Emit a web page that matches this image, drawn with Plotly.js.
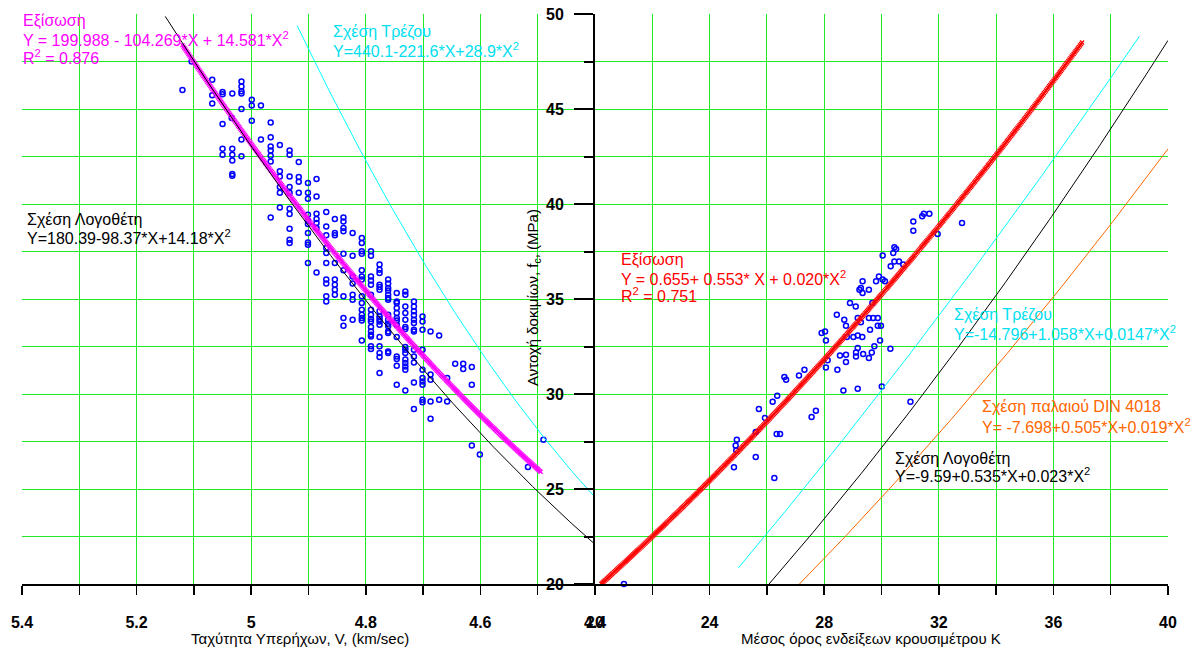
<!DOCTYPE html>
<html>
<head>
<meta charset="utf-8">
<script src="https://cdn.plot.ly/plotly-3.0.1.min.js"></script>
<style>html,body{margin:0;padding:0;background:#fff}#chart{width:1196px;height:648px}</style>
</head>
<body>
<div id="chart"></div>
<script>
// ---------- DATA ----------
// Left panel: ultrasonic pulse velocity V (km/sec) vs compressive strength fc (MPa)
const leftV = [5.120,5.104,5.068,5.068,5.068,5.050,5.050,5.033,5.017,5.017,5.017,5.017,5.017,4.999,4.999,4.983,5.050,5.034,4.999,4.966,
5.017,4.983,4.966,4.950,5.050,5.050,5.033,5.033,5.033,5.033,5.033,5.017,4.966,4.966,4.966,4.966,4.933,4.933,4.917,4.950,
4.950,4.933,4.917,4.917,4.901,4.886,4.950,4.950,4.933,4.933,4.917,4.901,4.901,4.886,4.950,4.933,4.933,4.966,4.901,4.901,
4.901,4.886,4.886,4.869,4.933,4.933,4.933,4.901,4.901,4.901,4.886,4.886,4.869,4.869,4.854,4.854,4.854,4.839,4.839,4.839,
4.839,4.823,4.901,4.886,4.869,4.869,4.869,4.869,4.869,4.854,4.854,4.854,4.854,4.854,4.839,4.839,4.823,4.823,4.823,4.823,
4.807,4.807,4.807,4.807,4.807,4.807,4.791,4.791,4.791,4.791,4.776,4.776,4.776,4.761,4.761,4.761,4.761,4.746,4.731,4.731,
4.776,4.776,4.791,4.869,4.839,4.869,4.823,4.807,4.807,4.807,4.791,4.776,4.761,4.761,4.761,4.746,4.746,4.731,4.716,4.716,
4.716,4.716,4.716,4.716,4.839,4.839,4.823,4.807,4.807,4.807,4.807,4.791,4.791,4.791,4.791,4.791,4.791,4.791,4.791,4.807,
4.776,4.776,4.776,4.776,4.776,4.776,4.761,4.761,4.761,4.761,4.761,4.761,4.746,4.746,4.746,4.746,4.746,4.746,4.731,4.731,
4.731,4.731,4.716,4.716,4.701,4.701,4.701,4.687,4.672,4.791,4.791,4.776,4.776,4.776,4.761,4.761,4.776,4.746,4.746,4.746,
4.731,4.731,4.731,4.731,4.731,4.731,4.731,4.716,4.716,4.716,4.701,4.701,4.701,4.701,4.701,4.746,4.731,4.716,4.687,4.687,
4.658,4.644,4.630,4.630,4.615,4.615,4.701,4.701,4.687,4.672,4.658,4.716,4.687,4.615,4.601,4.517,4.490];
const leftFc = [46.00,47.50,46.54,45.72,45.29,45.89,45.77,45.81,46.45,46.19,45.93,45.81,45.00,45.49,45.19,45.19,44.21,44.53,44.38,44.29,
43.40,43.40,43.51,43.11,42.91,42.59,42.91,42.59,42.29,41.58,41.49,42.51,43.03,42.81,42.54,42.24,42.82,42.59,42.21,41.72,
41.45,41.45,41.42,41.17,41.11,41.32,40.89,40.59,40.89,40.59,40.59,40.59,40.28,40.40,39.81,39.75,39.47,39.29,39.44,39.12,
38.95,39.49,39.21,39.58,38.70,38.12,37.95,38.47,37.98,37.86,39.00,38.74,38.82,38.35,39.21,38.47,38.35,39.29,39.08,38.74,
38.56,38.47,36.89,36.40,37.68,37.42,36.89,36.02,35.81,36.89,36.02,35.75,35.49,35.23,37.38,36.51,37.28,36.19,35.81,35.23,
38.21,37.95,37.51,37.38,36.51,35.14,37.51,37.28,36.19,35.98,36.81,36.54,36.37,36.02,35.81,35.58,35.45,35.32,35.40,35.23,
35.75,35.49,35.23,35.14,35.14,34.87,34.96,36.19,36.02,34.79,35.75,35.63,35.23,35.05,34.96,34.87,34.79,34.61,34.87,34.61,
34.35,34.14,33.91,33.74,34.00,33.59,33.91,34.44,34.17,34.00,33.87,34.44,34.17,33.95,33.82,33.53,33.29,33.12,33.03,32.82,
34.35,34.08,33.95,33.82,33.65,33.00,34.17,33.91,33.70,33.56,33.29,33.21,34.53,34.26,34.00,33.87,33.65,33.00,34.26,33.91,
33.53,33.42,33.38,33.29,34.08,33.82,33.38,33.29,33.08,32.51,32.37,32.51,32.16,31.95,32.24,32.16,31.11,31.98,31.84,31.49,
32.47,32.33,32.16,31.81,31.63,31.45,31.28,32.33,31.98,31.66,32.33,31.28,30.84,30.66,30.49,30.49,30.19,30.61,31.02,30.75,
30.84,31.59,31.59,31.32,31.42,30.49,29.70,29.56,29.61,29.70,29.61,29.21,28.70,27.29,26.81,26.16,27.59];

// Right panel: rebound hammer mean reading K vs compressive strength fc (MPa)
const rightK = [31.11,31.11,31.42,31.48,31.67,32.81,31.96,30.45,30.51,30.41,30.04,30.45,30.61,30.76,30.32,29.91,30.04,30.12,29.81,29.34,
29.23,29.28,29.34,29.56,28.90,29.10,29.68,28.44,28.70,28.76,29.17,29.28,29.56,29.71,29.87,29.87,29.98,29.60,27.91,28.03,
28.06,28.79,29.02,29.17,29.33,29.95,29.75,29.17,29.11,29.11,28.55,28.76,28.76,29.36,29.56,29.66,30.31,28.12,28.06,28.46,
27.31,27.12,26.61,26.67,28.67,29.17,30.01,31.01,26.36,26.20,25.72,25.93,27.71,27.56,24.95,24.91,24.93,25.61,26.34,26.46,
25.61,24.85,26.26,21.01];
const rightFc = [39.08,38.59,39.35,39.49,39.49,39.00,38.42,37.72,37.63,37.42,37.29,36.98,36.98,36.81,36.72,36.19,36.02,35.93,35.93,35.93,
35.49,35.58,35.32,35.49,34.79,34.61,34.79,34.17,33.91,33.59,34.00,33.77,34.00,34.00,34.00,33.59,33.59,33.38,33.21,33.29,
32.81,33.00,33.00,33.08,33.00,32.81,32.51,32.42,32.19,31.98,32.02,32.07,31.68,32.11,31.89,32.19,32.38,31.77,31.40,31.28,
31.28,30.98,30.89,30.75,30.19,30.28,30.40,29.59,29.91,29.59,29.21,28.74,29.12,28.79,27.59,27.29,27.03,28.00,27.89,27.89,
26.68,26.14,25.58,20.00];

// Relations shown on the chart: coefficients [a, b, c] of Y = a + b*X + c*X^2, and the X span drawn
const fitLeftCoef = [199.988, -104.269, 14.581];   const fitLeftSpan = [5.12, 4.495];
const trezosLeftCoef = [440.1, -221.6, 28.9];       const trezosLeftSpan = [4.92, 4.4];
const logoLeftCoef = [180.39, -98.37, 14.18];       const logoLeftSpan = [5.15, 4.4];
const fitRightCoef = [0.655, 0.553, 0.020];         const fitRightSpan = [20, 37];
const trezosRightCoef = [-14.796, 1.058, 0.0147];   const trezosRightSpan = [25, 39];
const logoRightCoef = [-9.59, 0.535, 0.023];        const logoRightSpan = [26, 40];
const dinCoef = [-7.698, 0.505, 0.019];             const dinSpan = [27, 40];

// Tick settings
const leftTicks = {range: [5.4, 4.4], tick0: 4.4, dtick: 0.2, minor: 0.1};
const rightTicks = {range: [20, 40], tick0: 20, dtick: 4, minor: 2};
const yTicks = {range: [20, 50], dtick: 5, minor: 2.5};

// ---------- helpers ----------
function curve(coef, span, n) {
  const xs = [], ys = [];
  for (let i = 0; i <= n; i++) {
    const x = span[0] + (span[1] - span[0]) * i / n;
    xs.push(x); ys.push(coef[0] + coef[1] * x + coef[2] * x * x);
  }
  return {xs, ys};
}
const FONT = 'Liberation Sans, Arial, sans-serif';
const GRID = '#1fec1f';
const W = 1196, H = 648, ML = 22, MR = 28, MT = 14, MB = 64;
const PW = W - ML - MR, PH = H - MT - MB;
function px2x(px) { return (px - ML) / PW; }
function py2y(py) { return (H - MB - py) / PH; }
function label(text, px, py, color, extra) {
  return Object.assign({
    text: text, xref: 'paper', yref: 'paper', x: px2x(px), y: py2y(py),
    xanchor: 'left', yanchor: 'middle', showarrow: false, borderpad: 0,
    font: {family: FONT, size: 16, color: color}
  }, extra || {});
}

const cFitL = curve(fitLeftCoef, fitLeftSpan, 360);
const cTrL = curve(trezosLeftCoef, trezosLeftSpan, 200);
const cLoL = curve(logoLeftCoef, logoLeftSpan, 200);
const cFitR = curve(fitRightCoef, fitRightSpan, 460);
const cTrR = curve(trezosRightCoef, trezosRightSpan, 200);
const cLoR = curve(logoRightCoef, logoRightSpan, 200);
const cDin = curve(dinCoef, dinSpan, 200);

const ptMarker = {symbol: 'circle-open', size: 5, color: '#0000ff', line: {width: 1.5, color: '#0000ff'}};

const traces = [
  {x: leftV, y: leftFc, xaxis: 'x', yaxis: 'y', mode: 'markers', marker: ptMarker, cliponaxis: false},
  {x: cFitL.xs, y: cFitL.ys, xaxis: 'x', yaxis: 'y', mode: 'markers',
   marker: {symbol: 'x-thin-open', size: 4, color: '#ff00ff', line: {width: 1.3, color: '#ff00ff'}}},
  {x: cLoL.xs, y: cLoL.ys, xaxis: 'x', yaxis: 'y', mode: 'lines', line: {color: '#000000', width: 1}},
  {x: cTrL.xs, y: cTrL.ys, xaxis: 'x', yaxis: 'y', mode: 'lines', line: {color: '#00ffff', width: 1}},
  {x: rightK, y: rightFc, xaxis: 'x2', yaxis: 'y', mode: 'markers', marker: ptMarker, cliponaxis: false},
  {x: cFitR.xs, y: cFitR.ys, xaxis: 'x2', yaxis: 'y', mode: 'markers', cliponaxis: false,
   marker: {symbol: 'x-thin-open', size: 4, color: '#ff0000', line: {width: 1.3, color: '#ff0000'}}},
  {x: cTrR.xs, y: cTrR.ys, xaxis: 'x2', yaxis: 'y', mode: 'lines', line: {color: '#00ffff', width: 1}},
  {x: cLoR.xs, y: cLoR.ys, xaxis: 'x2', yaxis: 'y', mode: 'lines', line: {color: '#000000', width: 1}},
  {x: cDin.xs, y: cDin.ys, xaxis: 'x2', yaxis: 'y', mode: 'lines', line: {color: '#ff6600', width: 1}}
];

const tickFont = {family: FONT, size: 16, color: '#000', weight: 'bold'};
function xAxis(t, domain) {
  return {
    domain: domain, range: t.range, tick0: t.tick0, dtick: t.dtick, anchor: 'y',
    showline: true, linecolor: '#000', linewidth: 2, zeroline: false,
    showgrid: true, gridcolor: GRID, gridwidth: 1,
    ticks: 'outside', ticklen: 9, tickwidth: 1.5, tickcolor: '#000',
    tickfont: tickFont, ticklabelstandoff: 14,
    minor: {dtick: t.minor, tick0: t.tick0, ticks: 'outside', ticklen: 9, tickwidth: 1.5, tickcolor: '#000',
            showgrid: true, gridcolor: GRID, gridwidth: 1}
  };
}

const layout = {
  width: W, height: H,
  margin: {l: ML, r: MR, t: MT, b: MB, pad: 0},
  paper_bgcolor: '#fff', plot_bgcolor: '#fff',
  showlegend: false,
  xaxis: xAxis(leftTicks, [0, 0.5]),
  xaxis2: xAxis(rightTicks, [0.5, 1]),
  yaxis: {
    range: yTicks.range, dtick: yTicks.dtick, anchor: 'x2', side: 'left',
    showline: true, linecolor: '#000', linewidth: 2, zeroline: false,
    showgrid: true, gridcolor: GRID, gridwidth: 1,
    ticks: 'outside', ticklen: 19, tickwidth: 2, tickcolor: '#000',
    tickfont: tickFont, ticklabelstandoff: 7,
    minor: {dtick: yTicks.minor, ticks: 'outside', ticklen: 9, tickwidth: 2, tickcolor: '#000',
            showgrid: true, gridcolor: GRID, gridwidth: 1}
  },
  annotations: [
    label('Εξίσωση', 22, 21, '#ff00ff'),
    label('Y = 199.988 - 104.269*X + 14.581*X<sup>2</sup>', 22, 39, '#ff00ff'),
    label('R<sup>2</sup> = 0.876', 22, 57, '#ff00ff'),
    label('Σχέση Τρέζου', 332, 32, '#00e0f0'),
    label('Y=440.1-221.6*X+28.9*X<sup>2</sup>', 332, 50, '#00e0f0'),
    label('Σχέση Λογοθέτη', 26, 219, '#000000'),
    label('Y=180.39-98.37*X+14.18*X<sup>2</sup>', 26, 237, '#000000'),
    label('Εξίσωση', 620, 260, '#ff0000'),
    label('Y = 0.655+ 0.553* X + 0.020*X<sup>2</sup>', 620, 277.5, '#ff0000'),
    label('R<sup>2</sup> = 0.751', 620, 295, '#ff0000'),
    label('Σχέση Τρέζου', 953, 315, '#00e0f0'),
    label('Y=-14.796+1.058*X+0.0147*X<sup>2</sup>', 953, 333, '#00e0f0'),
    label('Σχέση παλαιού DIN 4018', 981, 407, '#ff6600'),
    label('Y= -7.698+0.505*X+0.019*X<sup>2</sup>', 981, 426, '#ff6600'),
    label('Σχέση Λογοθέτη', 894, 458, '#000000'),
    label('Y=-9.59+0.535*X+0.023*X<sup>2</sup>', 894, 475, '#000000'),
    label('Ταχύτητα Υπερήχων, V, (km/sec)', 300, 638, '#000000', {xanchor: 'center', font: {family: FONT, size: 15, color: '#000'}}),
    label('Μέσος όρος ενδείξεων κρουσιμέτρου Κ', 871, 638, '#000000', {xanchor: 'center', font: {family: FONT, size: 15, color: '#000'}}),
    label('Αντοχή δοκιμίων, f<sub>c</sub>, (MPa)', 533, 298, '#000000', {xanchor: 'center', textangle: -90, font: {family: FONT, size: 15, color: '#000'}})
  ]
};

Plotly.newPlot('chart', traces, layout, {staticPlot: true, displayModeBar: false});
</script>
</body>
</html>
